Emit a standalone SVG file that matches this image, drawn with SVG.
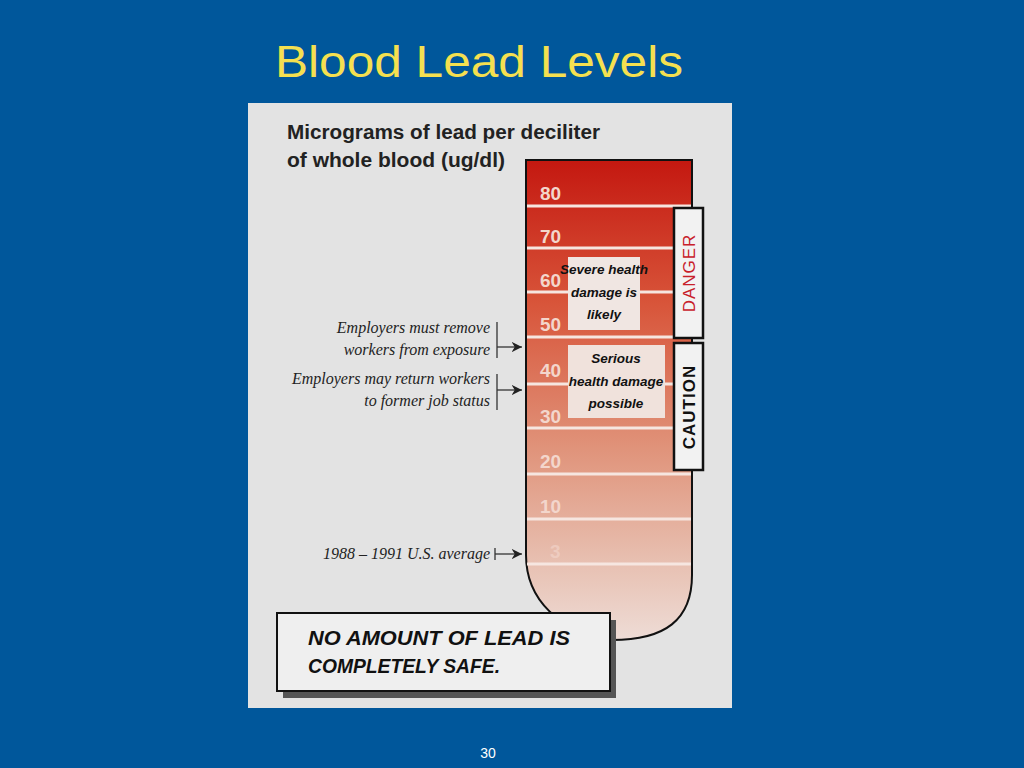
<svg xmlns="http://www.w3.org/2000/svg" width="1024" height="768" viewBox="0 0 1024 768">
<style>
.num{font-family:"Liberation Sans",sans-serif;font-size:19px;fill:#f3d6cc;font-weight:bold}
.lbl{font-family:"Liberation Serif",serif;font-style:italic;font-size:16px;fill:#222;text-anchor:end}
.box{font-family:"Liberation Sans",sans-serif;font-style:italic;font-weight:bold;font-size:13.5px;fill:#111;text-anchor:middle}
.band{stroke:#f6e6e0;stroke-width:3}
.con{stroke:#333;stroke-width:1.3;fill:none}
</style>
<defs>
<linearGradient id="g" x1="0" y1="0" x2="0" y2="1">
<stop offset="0" stop-color="#c41810"/>
<stop offset="0.3" stop-color="#d8553a"/>
<stop offset="0.6" stop-color="#e0937a"/>
<stop offset="0.85" stop-color="#e8c2b4"/>
<stop offset="1" stop-color="#eedcd6"/>
</linearGradient>
<marker id="ar" viewBox="0 0 10 10" refX="10" refY="5" markerWidth="8" markerHeight="8" orient="auto"><path d="M0,0 L10,5 L0,10 L3,5 Z" fill="#222"/></marker>
</defs>
<rect width="1024" height="768" fill="#00579b"/>
<text x="479" y="77" font-family="Liberation Sans,sans-serif" font-size="45" fill="#f5e050" text-anchor="middle" textLength="408" lengthAdjust="spacingAndGlyphs">Blood Lead Levels</text>
<rect x="248" y="103" width="484" height="605" fill="#e3e3e3"/>
<text font-family="Liberation Sans,sans-serif" font-weight="bold" font-size="20" fill="#222"><tspan x="287" y="139" textLength="313" lengthAdjust="spacingAndGlyphs">Micrograms of lead per deciliter</tspan><tspan x="287" y="167" textLength="218" lengthAdjust="spacingAndGlyphs">of whole blood (ug/dl)</tspan></text>
<g id="tube">
<path d="M526,160 H692 V575 C692,620 665,640 612,640 C560,632 526,600 526,555 Z" fill="url(#g)" stroke="#111" stroke-width="2"/>
<g class="band"><line x1="527" y1="206" x2="691" y2="206"/><line x1="527" y1="248" x2="691" y2="248"/><line x1="527" y1="292" x2="691" y2="292"/><line x1="527" y1="337" x2="691" y2="337"/><line x1="527" y1="384" x2="691" y2="384"/><line x1="527" y1="428" x2="691" y2="428"/><line x1="527" y1="474" x2="691" y2="474"/><line x1="527" y1="519" x2="691" y2="519"/><line x1="527" y1="564" x2="691" y2="564"/></g>
<text class="num" x="540" y="200">80</text><text class="num" x="540" y="243">70</text><text class="num" x="540" y="287">60</text><text class="num" x="540" y="331">50</text><text class="num" x="540" y="377">40</text><text class="num" x="540" y="423">30</text><text class="num" x="540" y="468">20</text><text class="num" x="540" y="513">10</text><text class="num" x="550" y="558" opacity="0.6">3</text>
</g>
<g id="severe"><rect x="568" y="257" width="72" height="73" fill="#f0e6e2"/><text class="box"><tspan x="604" y="274">Severe health</tspan><tspan x="604" y="297">damage is</tspan><tspan x="604" y="319">likely</tspan></text></g>
<g id="serious"><rect x="568" y="345" width="97" height="73" fill="#f0e2dc"/><text class="box"><tspan x="616" y="363">Serious</tspan><tspan x="616" y="386">health damage</tspan><tspan x="616" y="408">possible</tspan></text></g>
<g id="danger"><rect x="674" y="208" width="29" height="130" fill="#f2f2f2" stroke="#111" stroke-width="2.5"/><text transform="translate(695,273) rotate(-90)" font-family="Liberation Sans,sans-serif" font-size="17" fill="#c8202a" text-anchor="middle" letter-spacing="1">DANGER</text></g>
<g id="caution"><rect x="674" y="343" width="29" height="127" fill="#f2f2f2" stroke="#111" stroke-width="2.5"/><text transform="translate(695,407) rotate(-90)" font-family="Liberation Sans,sans-serif" font-weight="bold" font-size="17" fill="#111" text-anchor="middle" letter-spacing="1">CAUTION</text></g>
<g id="labels"><text class="lbl"><tspan x="490" y="333">Employers must remove</tspan><tspan x="490" y="355">workers from exposure</tspan></text><text class="lbl"><tspan x="490" y="384">Employers may return workers</tspan><tspan x="490" y="406">to former job status</tspan></text><text class="lbl" x="490" y="559">1988 – 1991 U.S. average</text></g>
<g id="connectors">
<line class="con" x1="497" y1="322" x2="497" y2="358"/><line class="con" x1="497" y1="347" x2="522" y2="347" marker-end="url(#ar)"/>
<line class="con" x1="497" y1="374" x2="497" y2="410"/><line class="con" x1="497" y1="390" x2="522" y2="390" marker-end="url(#ar)"/>
<line class="con" x1="495" y1="548" x2="495" y2="560"/><line class="con" x1="495" y1="554" x2="522" y2="554" marker-end="url(#ar)"/>
</g>
<g id="note"><rect x="283" y="620" width="333" height="78" fill="#555"/><rect x="277" y="613" width="333" height="78" fill="#efefef" stroke="#111" stroke-width="2"/><text font-family="Liberation Sans,sans-serif" font-style="italic" font-weight="bold" font-size="21" fill="#111"><tspan x="308" y="645" textLength="262" lengthAdjust="spacingAndGlyphs">NO AMOUNT OF LEAD IS</tspan><tspan x="308" y="673" textLength="192" lengthAdjust="spacingAndGlyphs">COMPLETELY SAFE.</tspan></text></g>
<text x="488" y="758" font-family="Liberation Sans,sans-serif" font-size="14" fill="#fff" text-anchor="middle">30</text>
</svg>
